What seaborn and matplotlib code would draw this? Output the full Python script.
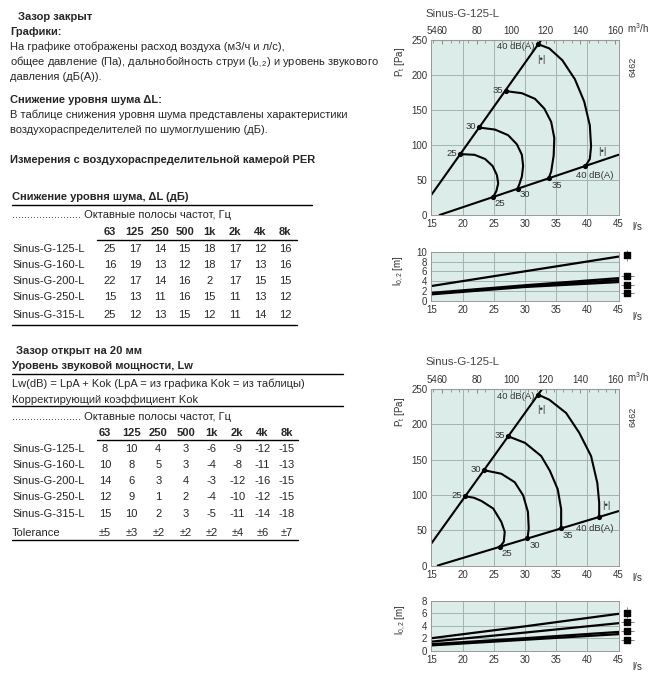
import matplotlib
matplotlib.use('Agg')
import matplotlib.pyplot as plt
import seaborn as sns
from matplotlib.lines import Line2D
from matplotlib.ticker import MultipleLocator

# ---------------- data ----------------
freqs = ['63', '125', '250', '500', '1k', '2k', '4k', '8k']
models = ['Sinus-G-125-L', 'Sinus-G-160-L', 'Sinus-G-200-L', 'Sinus-G-250-L', 'Sinus-G-315-L']
dL_125 = [25, 17, 14, 15, 18, 17, 12, 16]
dL_160 = [16, 19, 13, 12, 18, 17, 13, 16]
dL_200 = [22, 17, 14, 16, 2, 17, 15, 15]
dL_250 = [15, 13, 11, 16, 15, 11, 13, 12]
dL_315 = [25, 12, 13, 15, 12, 11, 14, 12]
kok_125 = [8, 10, 4, 3, -6, -9, -12, -15]
kok_160 = [10, 8, 5, 3, -4, -8, -11, -13]
kok_200 = [14, 6, 3, 4, -3, -12, -16, -15]
kok_250 = [12, 9, 1, 2, -4, -10, -12, -15]
kok_315 = [15, 10, 2, 3, -5, -11, -14, -18]
tolerance = ['±5', '±3', '±2', '±2', '±2', '±4', '±6', '±7']

x_ticks = [15, 20, 25, 30, 35, 40, 45]
m3h_ticks = [54, 60, 80, 100, 120, 140, 160]
p_ticks = [0, 50, 100, 150, 200, 250]
db_levels = ['25', '30', '35', '40 dB(A)']

# Chart A (gap closed)
A_upper_q = [15.0, 32.6]
A_upper_p = [29, 250]
A_lower_q = [16.3, 45.0]
A_lower_p = [0, 86]
A_top_q = [19.6, 22.6, 26.9, 32.1]
A_top_p = [87, 125, 177, 244]
A_bot_q = [24.9, 28.8, 33.8, 39.7]
A_bot_p = [26, 37.5, 52.5, 70]
A_c25_q = [19.6, 21.9, 23.6, 24.8, 25.5, 25.7, 25.4, 24.9]
A_c25_p = [87, 86, 80, 70, 57, 45, 34, 26]
A_c30_q = [22.6, 25.2, 27.3, 28.7, 29.5, 29.7, 29.5, 29.1, 28.8]
A_c30_p = [125, 122, 114, 101, 86, 70, 55, 44, 37.5]
A_c35_q = [26.9, 29.5, 31.6, 33.1, 34.2, 34.7, 34.6, 34.2, 33.8]
A_c35_p = [177, 174, 166, 152, 133, 110, 85, 62, 52.5]
A_c40_q = [32.1, 33.9, 36.0, 38.0, 39.5, 40.4, 40.6, 40.4, 39.7]
A_c40_p = [244, 238, 221, 194, 162, 128, 98, 80, 70]

# Chart B (gap open 20 mm)
B_upper_q = [15.0, 32.75]
B_upper_p = [31.5, 250]
B_lower_q = [16.0, 45.0]
B_lower_p = [0, 77]
B_top_q = [20.4, 23.4, 27.3, 32.1]
B_top_p = [98, 135, 183, 242]
B_bot_q = [26.0, 30.4, 35.8, 41.9]
B_bot_p = [26.6, 38.3, 52.7, 68.9]
B_c25_q = [20.4, 21.8, 23.0, 24.9, 26.2, 26.75, 26.6, 26.0]
B_c25_p = [98, 96, 91.5, 80.7, 61.8, 47.7, 33.7, 26.6]
B_c30_q = [23.4, 26.2, 28.35, 29.7, 30.47, 30.6, 30.4]
B_c30_p = [135, 130, 118, 99.4, 76, 52.5, 38.3]
B_c35_q = [27.3, 30.0, 32.6, 34.0, 35.25, 35.8, 35.8]
B_c35_p = [183, 173.7, 155, 134, 108, 80, 52.7]
B_c40_q = [32.1, 33.9, 36.6, 38.7, 40.6, 41.6, 41.9, 41.9]
B_c40_p = [242, 234.8, 216, 188, 155, 117, 89, 68.9]

# Throw l0.2
L_q = [15, 30, 45]
LA_1 = [3.0, 6.0, 9.0]
LA_2 = [1.6, 3.15, 4.6]
LA_3 = [1.45, 2.95, 4.2]
LA_4 = [1.3, 2.8, 3.8]
LA_icons = [9.3, 5.1, 3.3, 1.5]
LB_1 = [2.0, 3.9, 5.9]
LB_2 = [1.45, 2.9, 4.4]
LB_3 = [1.05, 2.0, 3.0]
LB_4 = [0.85, 1.75, 2.65]
LB_icons = [6.1, 4.6, 3.2, 1.7]

# ---------------- setup ----------------
sns.set_style('white')
plt.rcParams['font.family'] = ['Liberation Sans', 'DejaVu Sans']
plt.rcParams['mathtext.fontset'] = 'custom'
plt.rcParams['mathtext.rm'] = 'Liberation Sans'
plt.rcParams['mathtext.it'] = 'Liberation Sans:italic'
plt.rcParams['mathtext.bf'] = 'Liberation Sans:bold'

W, H = 656, 679
fig = plt.figure(figsize=(W / 100, H / 100), dpi=100)

BODY = 8.0
BG = '#dcece8'
GRID = '#a3b3b0'
TXT = '#333333'
TICK = 7.0
LBL = 6.8


def T(x, y, s, size=BODY, weight='normal', ha='left', **kw):
    fig.text(x / W, 1 - y / H, s, fontsize=size, fontweight=weight, ha=ha, va='center', **kw)


def HL(x0, x1, y, lw=1.0):
    fig.add_artist(Line2D([x0 / W, x1 / W], [1 - y / H] * 2, color='black', lw=lw))


# ---------------- left text ----------------
T(18, 17, 'Зазор закрыт', weight='bold')
T(10, 32, 'Графики:', weight='bold')
T(10, 47, 'На графике отображены расход воздуха (м3/ч и л/с),')
T(10, 62, 'общее давление (Па), дальнобойность струи (l$_{0,2}$) и уровень звукового')
T(10, 77, 'давления (дБ(А)).')
T(10, 100, 'Снижение уровня шума ΔL:', weight='bold')
T(10, 115, 'В таблице снижения уровня шума представлены характеристики')
T(10, 130, 'воздухораспределителей по шумоглушению (дБ).')
T(10, 160, 'Измерения с воздухораспределительной камерой PER', weight='bold')

# table 1
T(12, 197, 'Снижение уровня шума, ΔL (дБ)', weight='bold')
HL(12, 312, 205)
T(12, 215, '....................... Октавные полосы частот, Гц')
cols1 = [110, 135, 160, 184.5, 209.5, 235, 260, 285]
for cx, f in zip(cols1, freqs):
    T(cx, 232, f, weight='bold', ha='center')
HL(97, 297, 240)
rows1 = [dL_125, dL_160, dL_200, dL_250, dL_315]
ys1 = [249.5, 265.5, 281, 297, 315]
for yy, name, vals in zip(ys1, models, rows1):
    T(12, yy, name)
    for cx, v in zip(cols1, vals):
        T(cx, yy, str(v), ha='center')
HL(12, 297, 324.5)

# table 2
T(16, 351, 'Зазор открыт на 20 мм', weight='bold')
T(12, 366, 'Уровень звуковой мощности, Lw', weight='bold')
HL(12, 343, 373.5)
T(12, 383.5, 'Lw(dB) = LpA + Kok (LpA = из графика Kok = из таблицы)')
T(12, 399.5, 'Корректирующий коэффициент Kok')
HL(12, 343, 406)
T(12, 417, '....................... Октавные полосы частот, Гц')
cols2 = [105, 131.7, 158.3, 185.7, 211.7, 237.3, 262.3, 286.7]
for cx, f in zip(cols2, freqs):
    T(cx, 433, f, weight='bold', ha='center')
HL(97, 298, 439.5)
rows2 = [kok_125, kok_160, kok_200, kok_250, kok_315]
ys2 = [449, 465, 481, 497.5, 514]
for yy, name, vals in zip(ys2, models, rows2):
    T(12, yy, name)
    for cx, v in zip(cols2, vals):
        T(cx, yy, str(v), ha='center')
T(12, 532.5, 'Tolerance')
for cx, v in zip(cols2, tolerance):
    T(cx, 532.5, v, ha='center')
HL(12, 298, 540)

# ---------------- charts ----------------
AX_L, AX_R = 431.5, 618.5


def make_ax(top_px, bot_px):
    return fig.add_axes([AX_L / W, 1 - bot_px / H, (AX_R - AX_L) / W, (bot_px - top_px) / H])


def style_common(ax):
    ax.set_facecolor(BG)
    ax.set_xlim(15, 45)
    ax.set_xticks(x_ticks)
    ax.xaxis.set_minor_locator(MultipleLocator(1))
    ax.grid(True, which='major', color=GRID, lw=0.7)
    ax.set_axisbelow(True)
    ax.tick_params(which='both', direction='in', colors='#777777', labelcolor=TXT,
                   labelsize=TICK, pad=3)
    ax.tick_params(which='major', length=3, width=0.6)
    ax.tick_params(which='minor', length=2, width=0.5)
    for sp in ax.spines.values():
        sp.set_color('#999999')
        sp.set_linewidth(0.7)
    ax.set_xlabel('')
    ax.set_ylabel('')


def pressure_chart(ax, up_q, up_p, lo_q, lo_p, curves, top_q, top_p, bot_q, bot_p,
                   title_y, unit_y, offsets):
    style_common(ax)
    ax.set_ylim(0, 250)
    ax.set_yticks(p_ticks)
    ax.yaxis.set_minor_locator(MultipleLocator(10))
    for q, p in [(up_q, up_p), (lo_q, lo_p)] + curves:
        sns.lineplot(x=q, y=p, ax=ax, color='black', linewidth=1.5, sort=False,
                     estimator=None, legend=False)
    sns.scatterplot(x=top_q + bot_q, y=top_p + bot_p, ax=ax, color='black', s=14,
                    linewidth=0, zorder=5, legend=False)
    ax.set_xlabel('')
    ax.set_ylabel('')
    # level labels
    for i, lab in enumerate(db_levels):
        if i < 3:
            ax.annotate(lab, (top_q[i], top_p[i]), xytext=(-3, 1), textcoords='offset pixels',
                        ha='right', va='center', fontsize=LBL, color=TXT)
        else:
            ax.annotate(lab, (top_q[i], top_p[i]), xytext=(-4, -2), textcoords='offset pixels',
                        ha='right', va='center', fontsize=LBL, color=TXT)
        dx, dy = offsets[i]
        ax.annotate(lab, (bot_q[i], bot_p[i]), xytext=(dx, dy), textcoords='offset pixels',
                    ha='center', va='center', fontsize=LBL, color=TXT)
    ax.annotate('|•|', (top_q[3], top_p[3]), xytext=(3, -15), textcoords='offset pixels',
                ha='center', va='center', fontsize=LBL, color=TXT)
    ax.annotate('|•|', (bot_q[3], bot_p[3]), xytext=offsets[4], textcoords='offset pixels',
                ha='center', va='center', fontsize=LBL, color=TXT)
    # top axis in m3/h
    sec = ax.secondary_xaxis('top', functions=(lambda q: q * 3.6, lambda m: m / 3.6))
    sec.set_xticks(m3h_ticks)
    sec.xaxis.set_minor_locator(MultipleLocator(5))
    sec.tick_params(which='both', direction='in', colors='#777777', labelcolor=TXT,
                    labelsize=TICK, pad=3)
    sec.tick_params(which='major', length=3, width=0.6)
    sec.tick_params(which='minor', length=2, width=0.5)
    sec.spines['top'].set_color('#999999')
    # surrounding texts
    T(425, title_y, 'Sinus-G-125-L', size=8.2, color='#444444')
    T(638, unit_y, 'm$^3$/h', size=TICK, color=TXT, ha='center')


def throw_chart(ax, lines, ymax, icons):
    style_common(ax)
    ax.set_ylim(0, ymax)
    ax.set_yticks(list(range(0, ymax + 1, 2)))
    for vals in lines:
        sns.lineplot(x=L_q, y=vals, ax=ax, color='black', linewidth=1.6, estimator=None,
                     legend=False)
    ax.set_xlabel('')
    ax.set_ylabel('')
    trans = ax.get_yaxis_transform()
    for i, yv in enumerate(icons):
        ax.scatter([1.048], [yv], marker='s', s=14, color='black', transform=trans,
                   clip_on=False, zorder=5)
        if i == 0:
            ax.scatter([1.048, 1.048], [yv + ymax * 0.09, yv - ymax * 0.09], marker='|', s=4,
                       color='#666666', transform=trans, clip_on=False, linewidths=0.6)
        else:
            ax.scatter([1.025, 1.071], [yv, yv], marker='_', s=6, color='#666666',
                       transform=trans, clip_on=False, linewidths=0.6)


# chart A
axA = make_ax(40, 215)
pressure_chart(axA, A_upper_q, A_upper_p, A_lower_q, A_lower_p,
               [(A_c25_q, A_c25_p), (A_c30_q, A_c30_p), (A_c35_q, A_c35_p), (A_c40_q, A_c40_p)],
               A_top_q, A_top_p, A_bot_q, A_bot_p, 14, 28,
               [(7, -7), (7, -6), (8, -7), (9, -9), (17, 14)])
T(400, 62, 'P$_{\\mathrm{t}}$ [Pa]', size=TICK, color=TXT, ha='center', rotation=90)
T(633, 67, '6462', size=6.5, color=TXT, ha='center', rotation=90)
T(637, 227, 'l/s', size=TICK, color=TXT, ha='center')

# throw chart A
axLA = make_ax(251.7, 300.7)
throw_chart(axLA, [LA_1, LA_2, LA_3, LA_4], 10, LA_icons)
T(399, 271, 'l$_{0,2}$ [m]', size=TICK, color=TXT, ha='center', rotation=90)
T(637, 317, 'l/s', size=TICK, color=TXT, ha='center')

# chart B
axB = make_ax(389, 565.5)
pressure_chart(axB, B_upper_q, B_upper_p, B_lower_q, B_lower_p,
               [(B_c25_q, B_c25_p), (B_c30_q, B_c30_p), (B_c35_q, B_c35_p), (B_c40_q, B_c40_p)],
               B_top_q, B_top_p, B_bot_q, B_bot_p, 362, 377,
               [(7, -7), (7, -7), (7, -7), (-4, -12), (7, 11)])
T(400, 412, 'P$_{\\mathrm{t}}$ [Pa]', size=TICK, color=TXT, ha='center', rotation=90)
T(633, 417, '6462', size=6.5, color=TXT, ha='center', rotation=90)
T(637, 578, 'l/s', size=TICK, color=TXT, ha='center')

# throw chart B
axLB = make_ax(600.7, 650.7)
throw_chart(axLB, [LB_1, LB_2, LB_3, LB_4], 8, LB_icons)
T(401, 620, 'l$_{0,2}$ [m]', size=TICK, color=TXT, ha='center', rotation=90)
T(637, 667, 'l/s', size=TICK, color=TXT, ha='center')

fig.savefig('out.png', dpi=100, facecolor='white')
